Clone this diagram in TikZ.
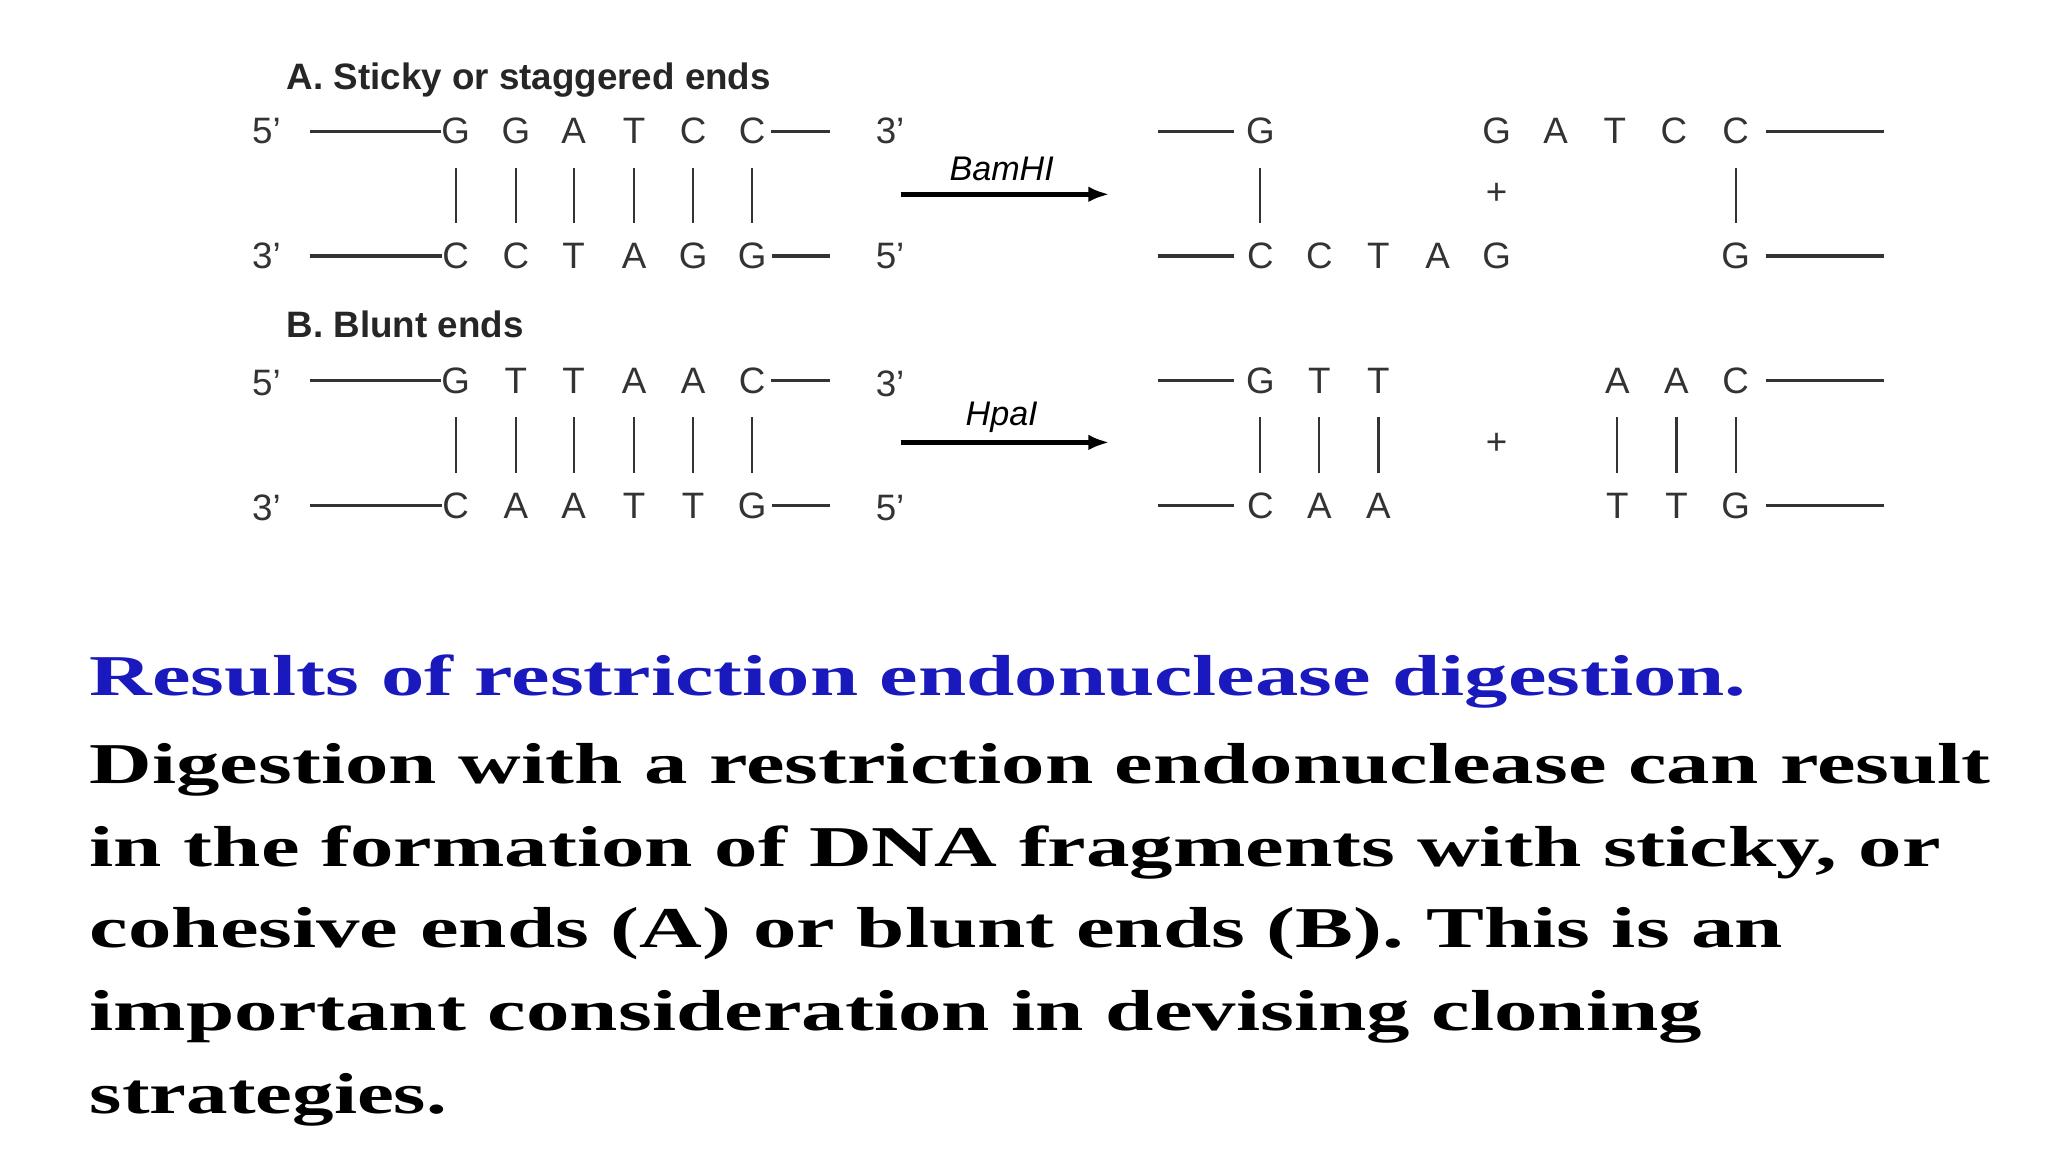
\documentclass[tikz,border=0pt]{standalone}
\usepackage{fontspec}
\usepackage{graphicx}
\setmainfont{Liberation Serif}
\setsansfont{Liberation Sans}
\usetikzlibrary{arrows.meta}
\definecolor{titleblue}{RGB}{25,25,190}
\newcommand{\fitline}[2]{\resizebox{#1}{\height}{#2}}
\begin{document}
\begin{tikzpicture}[x=0.5pt,y=-0.5pt,
  base/.style={font=\sffamily\fontsize{14}{14}\selectfont,text=black!80,inner sep=0pt,anchor=center},
  head/.style={font=\sffamily\bfseries\fontsize{14}{14}\selectfont,text=black!85,anchor=base west,inner sep=0pt},
  strand/.style={line width=1.3pt,black!80},
  pair/.style={line width=0.8pt,black!80},
  cut/.style={line width=2pt,-{Latex[length=8pt,width=6pt]}},
  enz/.style={font=\sffamily\itshape\fontsize{13}{13}\selectfont,anchor=center,inner sep=0pt},
  body/.style={font=\bfseries\fontsize{22}{22}\selectfont,anchor=base west,inner sep=0pt}]
\useasboundingbox[fill=white] (0,0) rectangle (1560,878);
% ---------- A ----------
\node[head] (hA) at (218,68) {A. Sticky or staggered ends};
\foreach \t/\b/\x [count=\i] in {G/C/347,G/C/393,A/T/437,T/A/483,C/G/528,C/G/573}{
  \node[base] (at\i) at (\x,100) {\t};
  \node[base] (ab\i) at (\x,195) {\b};
  \draw[pair] (\x,128) -- (\x,170);
}
\node[base] (a5) at (203,100) {5'};
\node[base] (a3) at (203,195) {3'};
\node[base] (a3r) at (678,100) {3'};
\node[base] (a5r) at (678,195) {5'};
\draw[strand] (236,100) -- (at1.west);
\draw[strand] (236,195) -- (ab1.west);
\draw[strand] (at6.east) ++(4,0) -- (632,100);
\draw[strand] (ab6.east) ++(4,0) -- (632,195);
\draw[cut] (686,148) -- (845,148);
\node[enz] (bam) at (763,129) {BamHI};
% products A
\node[base] (pa1) at (960,100) {G};
\foreach \l/\x [count=\i] in {C/960,C/1005,T/1050,A/1095,G/1140}{\node[base] (pb\i) at (\x,195) {\l};}
\foreach \l/\x [count=\i] in {G/1140,A/1185,T/1230,C/1275,C/1322}{\node[base] (qa\i) at (\x,100) {\l};}
\node[base] (qb1) at (1322,195) {G};
\node[base] (plusA) at (1140,148) {+};
\draw[strand] (882,100) -- (940,100);
\draw[strand] (882,195) -- (940,195);
\draw[pair] (960,128) -- (960,170);
\draw[pair] (1322,128) -- (1322,170);
\draw[strand] (1345,100) -- (1435,100);
\draw[strand] (1345,195) -- (1435,195);
% ---------- B ----------
\node[head] (hB) at (218,257) {B. Blunt ends};
\foreach \t/\b/\x [count=\i] in {G/C/347,T/A/393,T/A/437,A/T/483,A/T/528,C/G/573}{
  \node[base] (bt\i) at (\x,290) {\t};
  \node[base] (bb\i) at (\x,385) {\b};
  \draw[pair] (\x,318) -- (\x,360);
}
\node[base] (b5) at (203,292) {5'};
\node[base] (b3) at (203,387) {3'};
\node[base] (b3r) at (678,292) {3'};
\node[base] (b5r) at (678,387) {5'};
\draw[strand] (236,290) -- (bt1.west);
\draw[strand] (236,385) -- (bb1.west);
\draw[strand] (bt6.east) ++(4,0) -- (632,290);
\draw[strand] (bb6.east) ++(4,0) -- (632,385);
\draw[cut] (686,337) -- (845,337);
\node[enz] (hpa) at (763,318) {HpaI};
\foreach \t/\b/\x [count=\i] in {G/C/960,T/A/1005,T/A/1050,A/T/1232,A/T/1277,C/G/1322}{
  \node[base] (rt\i) at (\x,290) {\t};
  \node[base] (rb\i) at (\x,385) {\b};
  \draw[pair] (\x,318) -- (\x,360);
}
\node[base] (plusB) at (1140,338) {+};
\draw[strand] (882,290) -- (940,290);
\draw[strand] (882,385) -- (940,385);
\draw[strand] (1345,290) -- (1435,290);
\draw[strand] (1345,385) -- (1435,385);
% ---------- text ----------
\node[body,text=titleblue] (t0) at (68,530) {\fitline{631pt}{Results of restriction endonuclease digestion.}};
\node[body] (t1) at (68,597) {\fitline{724pt}{Digestion with a restriction endonuclease can result}};
\node[body] (t2) at (68,660) {\fitline{705pt}{in the formation of DNA fragments with sticky, or}};
\node[body] (t3) at (68,722) {\fitline{645pt}{cohesive ends (A) or blunt ends (B). This is an}};
\node[body] (t4) at (68,785) {\fitline{614pt}{important consideration in devising cloning}};
\node[body] (t5) at (68,848) {\fitline{136pt}{strategies.}};
\end{tikzpicture}
\end{document}
